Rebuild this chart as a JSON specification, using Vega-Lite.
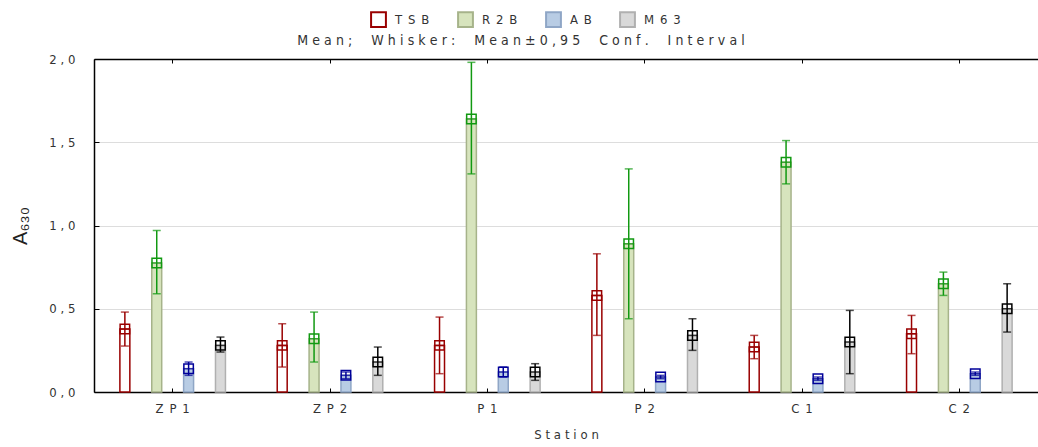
{
  "$schema": "https://vega.github.io/schema/vega-lite/v6.json",
  "width": 944,
  "height": 333,
  "autosize": {"type": "none"},
  "padding": {"left": 94, "top": 59, "right": 0, "bottom": 55},
  "background": "white",
  "config": {"view": {"stroke": null}, "font": "'DejaVu Sans Condensed', 'Liberation Sans', sans-serif"},
  "title": {"text": "M\u2004e\u2004a\u2004n\u2004;\u2002\u2002\u2002W\u2004h\u2004i\u2004s\u2004k\u2004e\u2004r\u2004:\u2002\u2002\u2002M\u2004e\u2004a\u2004n\u2004±\u20040\u2004,\u20049\u20045\u2002\u2002\u2002C\u2004o\u2004n\u2004f\u2004.\u2002\u2002\u2002I\u2004n\u2004t\u2004e\u2004r\u2004v\u2004a\u2004l", "anchor": "middle", "dx": -45, "dy": 49, "offset": 12, "fontSize": 14, "fontWeight": "normal", "color": "#333333", "font": "'DejaVu Sans Condensed', 'Liberation Sans', sans-serif"},
  "data": {"values": [
    {"station": "ZP1", "group": "TSB", "mean": 0.378, "lo": 0.276, "hi": 0.48},
    {"station": "ZP1", "group": "R2B", "mean": 0.775, "lo": 0.59, "hi": 0.97},
    {"station": "ZP1", "group": "AB", "mean": 0.14, "lo": 0.1, "hi": 0.18},
    {"station": "ZP1", "group": "M63", "mean": 0.28, "lo": 0.24, "hi": 0.33},
    {"station": "ZP2", "group": "TSB", "mean": 0.28, "lo": 0.15, "hi": 0.41},
    {"station": "ZP2", "group": "R2B", "mean": 0.32, "lo": 0.18, "hi": 0.48},
    {"station": "ZP2", "group": "AB", "mean": 0.1, "lo": 0.08, "hi": 0.12},
    {"station": "ZP2", "group": "M63", "mean": 0.18, "lo": 0.1, "hi": 0.27},
    {"station": "P1", "group": "TSB", "mean": 0.28, "lo": 0.11, "hi": 0.45},
    {"station": "P1", "group": "R2B", "mean": 1.64, "lo": 1.31, "hi": 1.98},
    {"station": "P1", "group": "AB", "mean": 0.12, "lo": 0.09, "hi": 0.15},
    {"station": "P1", "group": "M63", "mean": 0.12, "lo": 0.07, "hi": 0.17},
    {"station": "P2", "group": "TSB", "mean": 0.58, "lo": 0.34, "hi": 0.83},
    {"station": "P2", "group": "R2B", "mean": 0.89, "lo": 0.44, "hi": 1.34},
    {"station": "P2", "group": "AB", "mean": 0.09, "lo": 0.08, "hi": 0.1},
    {"station": "P2", "group": "M63", "mean": 0.34, "lo": 0.25, "hi": 0.44},
    {"station": "C1", "group": "TSB", "mean": 0.27, "lo": 0.2, "hi": 0.34},
    {"station": "C1", "group": "R2B", "mean": 1.38, "lo": 1.25, "hi": 1.51},
    {"station": "C1", "group": "AB", "mean": 0.08, "lo": 0.07, "hi": 0.09},
    {"station": "C1", "group": "M63", "mean": 0.3, "lo": 0.11, "hi": 0.49},
    {"station": "C2", "group": "TSB", "mean": 0.35, "lo": 0.23, "hi": 0.46},
    {"station": "C2", "group": "R2B", "mean": 0.65, "lo": 0.58, "hi": 0.72},
    {"station": "C2", "group": "AB", "mean": 0.11, "lo": 0.1, "hi": 0.12},
    {"station": "C2", "group": "M63", "mean": 0.5, "lo": 0.36, "hi": 0.65}
  ]},
  "encoding": {
    "x": {"field": "station", "type": "nominal", "sort": ["ZP1", "ZP2", "P1", "P2", "C1", "C2"], "scale": {"paddingInner": 0, "paddingOuter": 0}, "axis": null},
    "xOffset": {"field": "group", "type": "nominal", "sort": ["TSB", "R2B", "AB", "M63"], "scale": {"paddingInner": 0.6875, "paddingOuter": 0.8125}}
  },
  "resolve": {"axis": {"x": "independent"}},
  "layer": [
    {
      "mark": {"type": "bar", "strokeWidth": 1.5},
      "encoding": {
        "x": {"field": "station", "type": "nominal", "sort": ["ZP1", "ZP2", "P1", "P2", "C1", "C2"], "title": "S\u2004t\u2004a\u2004t\u2004i\u2004o\u2004n",
          "axis": {"orient": "bottom", "labelAngle": 0, "labelExpr": "join(split(datum.label,''),'\u2002')", "labelFontSize": 13, "labelColor": "#333333", "labelPadding": 14, "tickSize": -4, "tickColor": "#000000", "domainColor": "#000000", "domainWidth": 1.5, "titleFontSize": 13, "titleFontWeight": "normal", "titleColor": "#333333", "titlePadding": 13}},
        "y": {"field": "mean", "type": "quantitative", "scale": {"domain": [0, 2], "nice": false, "zero": true}, "title": "A₆₃₀",
          "axis": {"values": [0, 0.5, 1, 1.5, 2], "labelExpr": "join(split(replace(format(datum.value,'.1f'),'.',','),''),'\u2004')", "labelFontSize": 13, "labelColor": "#333333", "labelPadding": 24, "tickSize": -5, "tickColor": "#000000", "domainColor": "#000000", "domainWidth": 1.5, "grid": true, "gridColor": "#dddddd", "titleFont": "'Liberation Sans', sans-serif", "titleFontSize": 20, "titleFontWeight": "normal", "titleColor": "#222222", "titlePadding": 18}},
        "fill": {"field": "group", "type": "nominal", "scale": {"domain": ["TSB", "R2B", "AB", "M63"], "range": ["#ffffff", "#d7e4bd", "#b8cce4", "#d9d9d9"]},
          "legend": {"title": null, "orient": "none", "legendX": 276, "legendY": -48, "direction": "horizontal", "columns": 4, "symbolType": "square", "symbolSize": 220, "symbolStrokeWidth": 2, "labelExpr": "join(split(datum.label,''),'\u2002')", "labelFontSize": 13, "labelColor": "#333333", "columnPadding": 24, "labelOffset": 8}},
        "stroke": {"field": "group", "type": "nominal", "scale": {"domain": ["TSB", "R2B", "AB", "M63"], "range": ["#990000", "#a6b38a", "#8fa6c6", "#b0b0b0"]}, "legend": null}
      }
    },
    {
      "mark": {"type": "rule", "opacity": 0},
      "encoding": {
        "x": {"field": "station", "type": "nominal", "sort": ["ZP1", "ZP2", "P1", "P2", "C1", "C2"],
          "axis": {"orient": "top", "labels": false, "title": null, "tickSize": -4, "tickColor": "#000000", "domainColor": "#000000", "domainWidth": 1.5}},
        "y": {"field": "mean", "type": "quantitative"}
      }
    },
    {
      "mark": {"type": "rule", "strokeWidth": 1.5},
      "encoding": {
        "y": {"field": "lo", "type": "quantitative"},
        "y2": {"field": "hi"},
        "color": {"field": "group", "type": "nominal", "scale": {"domain": ["TSB", "R2B", "AB", "M63"], "range": ["#990000", "#119911", "#000099", "#000000"]}, "legend": null}
      }
    },
    {
      "mark": {"type": "tick", "size": 8, "thickness": 1.5},
      "encoding": {
        "y": {"field": "lo", "type": "quantitative"},
        "color": {"field": "group", "type": "nominal", "legend": null}
      }
    },
    {
      "mark": {"type": "tick", "size": 8, "thickness": 1.5},
      "encoding": {
        "y": {"field": "hi", "type": "quantitative"},
        "color": {"field": "group", "type": "nominal", "legend": null}
      }
    },
    {
      "mark": {"type": "tick", "size": 10, "thickness": 1.5},
      "encoding": {
        "y": {"field": "mean", "type": "quantitative"},
        "color": {"field": "group", "type": "nominal", "legend": null}
      }
    },
    {
      "mark": {"type": "point", "shape": "square", "size": 90, "filled": false, "strokeWidth": 1.5, "opacity": 1},
      "encoding": {
        "y": {"field": "mean", "type": "quantitative"},
        "color": {"field": "group", "type": "nominal", "legend": null}
      }
    }
  ]
}
